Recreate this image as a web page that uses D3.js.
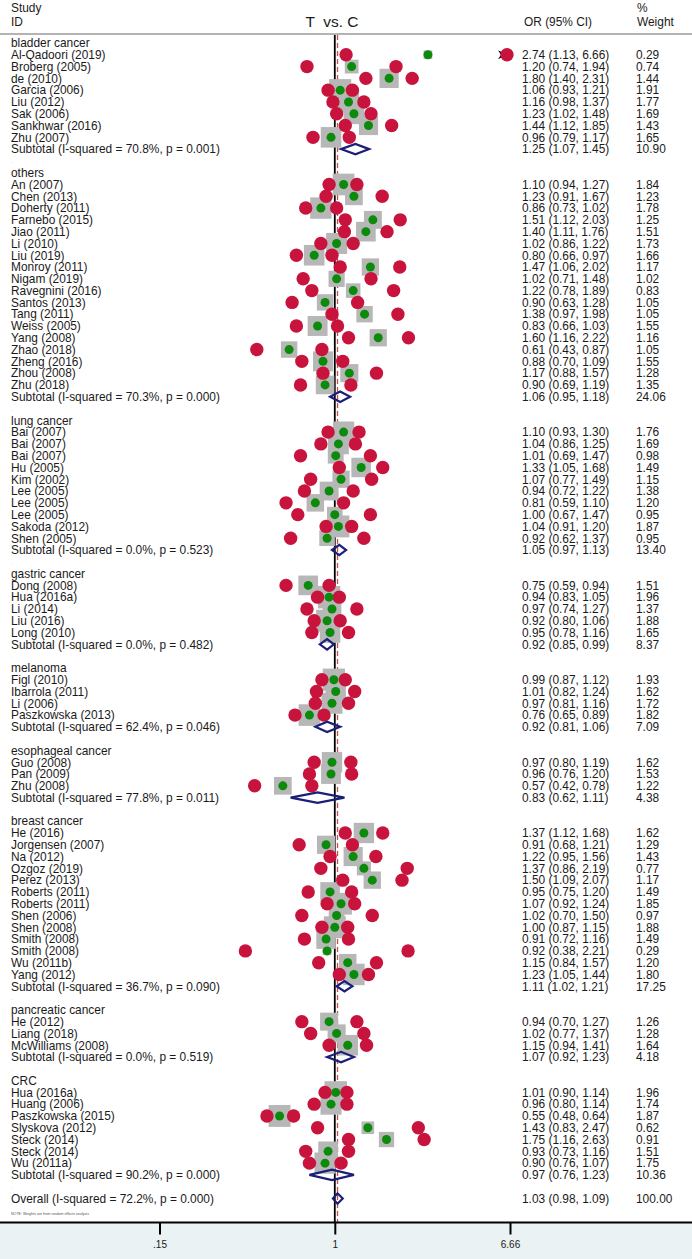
<!DOCTYPE html>
<html>
<head>
<meta charset="utf-8">
<script src="https://cdn.jsdelivr.net/npm/d3@7"></script>
<style>
  html, body { margin: 0; padding: 0; background: #ffffff; }
  svg { display: block; }
  text { font-family: "Liberation Sans", Arial, sans-serif; fill: #1a1a1a; }
</style>
</head>
<body>
<svg id="chart" width="692" height="1259"></svg>
<script>
// ---------------- data ----------------
const groupNames = ["bladder cancer", "others", "lung cancer", "gastric cancer", "melanoma",
  "esophageal cancer", "breast cancer", "pancreatic cancer", "CRC"];
const groupSizes = [8, 18, 10, 5, 4, 3, 13, 3, 7];

const studyNames = [
  "Al-Qadoori (2019)", "Broberg (2005)", "de (2010)", "Garcia (2006)", "Liu (2012)", "Sak (2006)", "Sankhwar (2016)", "Zhu (2007)",
  "An (2007)", "Chen (2013)", "Doherty (2011)", "Farnebo (2015)", "Jiao (2011)", "Li (2010)", "Liu (2019)", "Monroy (2011)", "Nigam (2019)",
  "Ravegnini (2016)", "Santos (2013)", "Tang (2011)", "Weiss (2005)", "Yang (2008)", "Zhao (2018)", "Zheng (2016)", "Zhou (2008)", "Zhu (2018)",
  "Bai (2007)", "Bai (2007)", "Bai (2007)", "Hu (2005)", "Kim (2002)", "Lee (2005)", "Lee (2005)", "Lee (2005)", "Sakoda (2012)", "Shen (2005)",
  "Dong (2008)", "Hua (2016a)", "Li (2014)", "Liu (2016)", "Long (2010)",
  "Figl (2010)", "Ibarrola (2011)", "Li (2006)", "Paszkowska (2013)",
  "Guo (2008)", "Pan (2009)", "Zhu (2008)",
  "He (2016)", "Jorgensen (2007)", "Na (2012)", "Ozgoz (2019)", "Perez (2013)", "Roberts (2011)", "Roberts (2011)", "Shen (2006)",
  "Shen (2008)", "Smith (2008)", "Smith (2008)", "Wu (2011b)", "Yang (2012)",
  "He (2012)", "Liang (2018)", "McWilliams (2008)",
  "Hua (2016a)", "Huang (2006)", "Paszkowska (2015)", "Slyskova (2012)", "Steck (2014)", "Steck (2014)", "Wu (2011a)"
];
const studyOR = [
  2.74, 1.20, 1.80, 1.06, 1.16, 1.23, 1.44, 0.96,
  1.10, 1.23, 0.86, 1.51, 1.40, 1.02, 0.80, 1.47, 1.02, 1.22, 0.90, 1.38, 0.83, 1.60, 0.61, 0.88, 1.17, 0.90,
  1.10, 1.04, 1.01, 1.33, 1.07, 0.94, 0.81, 1.00, 1.04, 0.92,
  0.75, 0.94, 0.97, 0.92, 0.95,
  0.99, 1.01, 0.97, 0.76,
  0.97, 0.96, 0.57,
  1.37, 0.91, 1.22, 1.37, 1.50, 0.95, 1.07, 1.02, 1.00, 0.91, 0.92, 1.15, 1.23,
  0.94, 1.02, 1.15,
  1.01, 0.96, 0.55, 1.43, 1.75, 0.93, 0.90
];
const studyLower = [
  1.13, 0.74, 1.40, 0.93, 0.98, 1.02, 1.12, 0.79,
  0.94, 0.91, 0.73, 1.12, 1.11, 0.86, 0.66, 1.06, 0.71, 0.78, 0.63, 0.97, 0.66, 1.16, 0.43, 0.70, 0.88, 0.69,
  0.93, 0.86, 0.69, 1.05, 0.77, 0.72, 0.59, 0.67, 0.91, 0.62,
  0.59, 0.83, 0.74, 0.80, 0.78,
  0.87, 0.82, 0.81, 0.65,
  0.80, 0.76, 0.42,
  1.12, 0.68, 0.95, 0.86, 1.09, 0.75, 0.92, 0.70, 0.87, 0.72, 0.38, 0.84, 1.05,
  0.70, 0.77, 0.94,
  0.90, 0.80, 0.48, 0.83, 1.16, 0.73, 0.76
];
const studyUpper = [
  6.66, 1.94, 2.31, 1.21, 1.37, 1.48, 1.85, 1.17,
  1.27, 1.67, 1.02, 2.03, 1.76, 1.22, 0.97, 2.02, 1.48, 1.89, 1.28, 1.98, 1.03, 2.22, 0.87, 1.09, 1.57, 1.19,
  1.30, 1.25, 1.47, 1.68, 1.49, 1.22, 1.10, 1.47, 1.20, 1.37,
  0.94, 1.05, 1.27, 1.06, 1.16,
  1.12, 1.24, 1.16, 0.89,
  1.19, 1.20, 0.78,
  1.68, 1.21, 1.56, 2.19, 2.07, 1.20, 1.24, 1.50, 1.15, 1.16, 2.21, 1.57, 1.44,
  1.27, 1.37, 1.41,
  1.14, 1.14, 0.64, 2.47, 2.63, 1.16, 1.07
];
const studyWeight = [
  0.29, 0.74, 1.44, 1.91, 1.77, 1.69, 1.43, 1.65,
  1.84, 1.23, 1.78, 1.25, 1.51, 1.73, 1.66, 1.17, 1.02, 0.83, 1.05, 1.05, 1.55, 1.16, 1.05, 1.55, 1.28, 1.35,
  1.76, 1.69, 0.98, 1.49, 1.15, 1.38, 1.20, 0.95, 1.87, 0.95,
  1.51, 1.96, 1.37, 1.88, 1.65,
  1.93, 1.62, 1.72, 1.82,
  1.62, 1.53, 1.22,
  1.62, 1.29, 1.43, 0.77, 1.17, 1.49, 1.85, 0.97, 1.88, 1.49, 0.29, 1.20, 1.80,
  1.26, 1.28, 1.64,
  1.96, 1.74, 1.87, 0.62, 0.91, 1.51, 1.75
];

const subtotalI2 = [70.8, 70.3, 0.0, 0.0, 62.4, 77.8, 36.7, 0.0, 90.2];
const subtotalP = [0.001, 0.000, 0.523, 0.482, 0.046, 0.011, 0.090, 0.519, 0.000];
const subtotalOR = [1.25, 1.06, 1.05, 0.92, 0.92, 0.83, 1.11, 1.07, 0.97];
const subtotalLower = [1.07, 0.95, 0.97, 0.85, 0.81, 0.62, 1.02, 0.92, 0.76];
const subtotalUpper = [1.45, 1.18, 1.13, 0.99, 1.06, 1.11, 1.21, 1.23, 1.23];
const subtotalWeight = [10.90, 24.06, 13.40, 8.37, 7.09, 4.38, 17.25, 4.18, 10.36];

const overallI2 = 72.2;
const overallP = 0.000;
const overallEstimate = [1.03, 0.98, 1.09]; // OR, lower, upper
const overallWeight = 100.00;

const xTickValues = [0.15, 1, 6.66];
const xTickLabels = [".15", "1", "6.66"];

// ---------------- build rows ----------------
const rows = [];
let s = 0;
groupNames.forEach((g, gi) => {
  rows.push({ type: "group", label: g });
  for (let k = 0; k < groupSizes[gi]; k++, s++) {
    rows.push({ type: "study", label: studyNames[s], or: studyOR[s], lo: studyLower[s], hi: studyUpper[s], w: studyWeight[s] });
  }
  rows.push({ type: "subtotal",
    label: "Subtotal  (I-squared = " + subtotalI2[gi].toFixed(1) + "%, p = " + subtotalP[gi].toFixed(3) + ")",
    or: subtotalOR[gi], lo: subtotalLower[gi], hi: subtotalUpper[gi], w: subtotalWeight[gi] });
  rows.push({ type: "blank" });
});
rows.push({ type: "overall",
  label: "Overall  (I-squared = " + overallI2.toFixed(1) + "%, p = " + overallP.toFixed(3) + ")",
  or: overallEstimate[0], lo: overallEstimate[1], hi: overallEstimate[2], w: overallWeight });
rows.forEach((r, i) => r.i = i);

// ---------------- scales ----------------
const W = 692, H = 1259;
const axisY = 1222.5;
const x = d3.scaleLog().domain([0.15, 6.66]).range([159.5, 510]);
const y = d3.scaleLinear().domain([0, rows.length - 1]).range([43, 1198.5]);
const boxSide = d3.scaleSqrt().domain([0, 1]).range([0, 16]);

const svg = d3.select("#chart");
const fs = 11.9;

// background
svg.append("rect").attr("x", 0).attr("y", 0).attr("width", W).attr("height", H).attr("fill", "#ffffff");
svg.append("rect").attr("x", 0).attr("y", axisY).attr("width", W).attr("height", H - axisY).attr("fill", "#eaf2f3");

// header
const hdr = svg.append("g").style("font-size", fs + "px");
hdr.append("text").attr("x", 11).attr("y", 12).text("Study");
hdr.append("text").attr("x", 11).attr("y", 25.5).text("ID");
hdr.append("text").attr("x", 524).attr("y", 25.5).text("OR (95% CI)");
hdr.append("text").attr("x", 637).attr("y", 12).text("%");
hdr.append("text").attr("x", 637).attr("y", 25.5).text("Weight");
svg.append("text").attr("x", 332).attr("y", 27).attr("text-anchor", "middle")
  .style("font-size", "15.5px").style("white-space", "pre").text("T  vs. C");
svg.append("line").attr("x1", 0).attr("x2", W).attr("y1", 34).attr("y2", 34)
  .attr("stroke", "#b4b4b4").attr("stroke-width", 2);

// reference lines
svg.append("line").attr("x1", x(1)).attr("x2", x(1)).attr("y1", 35).attr("y2", axisY)
  .attr("stroke", "#000").attr("stroke-width", 1.8);
svg.append("line").attr("x1", x(overallEstimate[0])).attr("x2", x(overallEstimate[0])).attr("y1", 35).attr("y2", axisY)
  .attr("stroke", "#c0504d").attr("stroke-width", 1.3).attr("stroke-dasharray", "5,3");

// left text
const txt = svg.append("g").style("font-size", fs + "px").style("white-space", "pre");
txt.selectAll("text.lab").data(rows.filter(r => r.type !== "blank")).join("text")
  .attr("class", "lab").attr("x", 11).attr("y", r => y(r.i) + 4.3).text(r => r.label);
txt.selectAll("text.dot").data(rows.filter(r => r.type === "blank")).join("text")
  .attr("class", "dot").attr("x", 11).attr("y", r => y(r.i) + 2).style("font-size", "5px").style("fill", "#aaa").text(".");
const est = rows.filter(r => r.type === "study" || r.type === "subtotal" || r.type === "overall");
txt.selectAll("text.or").data(est).join("text")
  .attr("class", "or").attr("x", 522).attr("y", r => y(r.i) + 4.3)
  .text(r => r.or.toFixed(2) + " (" + r.lo.toFixed(2) + ", " + r.hi.toFixed(2) + ")");
txt.selectAll("text.wt").data(est).join("text")
  .attr("class", "wt").attr("x", 636).attr("y", r => y(r.i) + 4.3).text(r => r.w.toFixed(2));

// study markers
const studies = rows.filter(r => r.type === "study");
const marks = svg.append("g");
marks.selectAll("rect.box").data(studies).join("rect").attr("class", "box")
  .attr("x", r => x(r.or) - boxSide(r.w) / 2).attr("y", r => y(r.i) - boxSide(r.w) / 2)
  .attr("width", r => boxSide(r.w)).attr("height", r => boxSide(r.w)).attr("fill", "#b7b7b7");
// arrows for truncated CIs
marks.selectAll("path.arrow").data(studies.filter(r => r.hi >= x.domain()[1])).join("path").attr("class", "arrow")
  .attr("d", r => { const cx = x(x.domain()[1]) - 3, cy = y(r.i);
    return `M${cx - 9},${cy - 4.5} L${cx},${cy} L${cx - 9},${cy + 4.5} L${cx - 6},${cy} Z`; })
  .attr("fill", "#000");
const ends = [];
studies.forEach(r => { ends.push({ v: r.lo, i: r.i }); ends.push({ v: r.hi, i: r.i }); });
marks.selectAll("circle.ci").data(ends).join("circle").attr("class", "ci")
  .attr("cx", d => x(d.v) + (d.v >= x.domain()[1] ? -3 : 0)).attr("cy", d => y(d.i)).attr("r", 6.7).attr("fill", "#c8143c");
marks.selectAll("circle.pt").data(studies).join("circle").attr("class", "pt")
  .attr("cx", r => x(r.or)).attr("cy", r => y(r.i)).attr("r", 4.5).attr("fill", "#0b8a0b");

// diamonds
const pooled = rows.filter(r => r.type === "subtotal" || r.type === "overall");
marks.selectAll("path.diamond").data(pooled).join("path").attr("class", "diamond")
  .attr("d", r => { const cy = y(r.i), h = 5.2;
    return `M${x(r.lo)},${cy} L${x(r.or)},${cy - h} L${x(r.hi)},${cy} L${x(r.or)},${cy + h} Z`; })
  .attr("fill", "none").attr("stroke", "#1b1f78").attr("stroke-width", 2.2);

// note
svg.append("text").attr("x", 11).attr("y", 1214.5).style("font-size", "3.6px").style("fill", "#555")
  .text("NOTE: Weights are from random effects analysis");

// axis
const axis = d3.axisBottom(x).tickValues(xTickValues).tickFormat((d, i) => xTickLabels[i]).tickSize(12).tickPadding(6);
const ag = svg.append("g").attr("transform", `translate(0,${axisY})`).call(axis);
ag.select(".domain").remove();
ag.selectAll(".tick line").attr("stroke", "#000").attr("stroke-width", 2);
ag.selectAll(".tick text").style("font-family", "'Liberation Sans', Arial, sans-serif").style("font-size", "10px").attr("fill", "#333");
svg.append("line").attr("x1", 0).attr("x2", W).attr("y1", axisY).attr("y2", axisY).attr("stroke", "#000").attr("stroke-width", 2);
</script>
</body>
</html>
